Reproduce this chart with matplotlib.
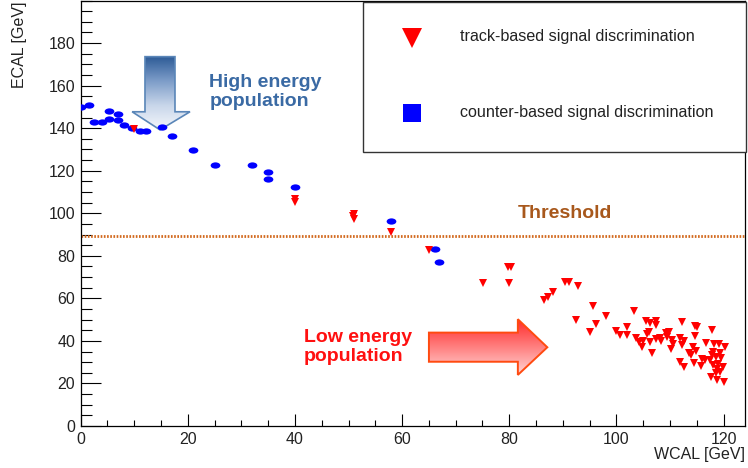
import numpy as np
import matplotlib
matplotlib.use("Agg")
import matplotlib.pyplot as plt
from matplotlib.path import Path
from matplotlib.patches import Polygon, Rectangle
from matplotlib.transforms import Affine2D
from matplotlib.colors import LinearSegmentedColormap
from matplotlib.ticker import MultipleLocator
from matplotlib.lines import Line2D

plt.rcParams['font.family'] = ['Liberation Sans', 'DejaVu Sans']

# ---------------- data ----------------
counter_wcal = [0.0, 1.5, 2.5, 4.0, 5.2, 5.2, 7.0, 7.0, 8.0, 9.5, 11.0, 12.2,
                15.1, 17.0, 21.0, 25.0, 32.0, 35.0, 35.0, 40.0, 58.0, 66.2, 66.8]
counter_ecal = [150.0, 151.0, 143.0, 143.0, 148.0, 144.5, 146.5, 144.0, 141.4, 140.0, 138.5, 138.5,
                140.6, 136.3, 129.6, 122.5, 122.5, 119.4, 116.3, 112.3, 96.3, 83.3, 77.0]

track_wcal = [9.9, 40.0, 40.0, 51.0, 51.0, 50.8, 58.0, 65.0,
              75.1, 79.7, 80.4, 80.0, 86.4, 87.2, 88.2, 90.4, 91.2, 92.8, 92.5, 95.0,
              95.6, 96.1, 98.0, 99.9, 100.7, 102.0, 102.0, 103.2,
              105.6, 106.3, 107.3, 107.4, 105.7, 106.1, 103.6, 104.2, 105.0, 104.8,
              106.3, 106.7, 107.3, 108.1, 108.4, 109.2, 109.9, 109.4, 110.3, 110.5,
              110.1, 112.3, 111.9, 112.7, 112.3, 114.7, 115.0, 114.6, 113.5, 114.0,
              114.9, 114.3, 111.9, 112.7, 114.4, 115.9, 116.5, 115.7, 116.7, 117.9,
              118.3, 119.1, 120.2, 118.1, 119.3, 117.8, 117.5, 118.5, 119.6, 118.0,
              119.0, 119.9, 118.7, 119.4, 118.5, 117.7, 118.7, 120.0]
track_ecal = [139.8, 106.8, 105.5, 99.8, 97.4, 98.5, 91.4, 82.8,
              67.1, 74.6, 74.6, 67.1, 59.2, 60.5, 62.8, 67.5, 67.5, 65.6, 49.8, 44.4,
              56.4, 47.9, 51.6, 44.8, 43.0, 46.5, 43.0, 54.0,
              49.2, 48.2, 49.5, 47.6, 43.2, 44.3, 41.3, 39.3, 40.0, 37.2,
              39.3, 34.1, 40.9, 41.3, 40.0, 43.5, 44.0, 41.6, 40.4, 38.5,
              36.1, 48.7, 41.3, 40.0, 38.2, 47.1, 46.3, 42.4, 34.5, 33.5,
              35.3, 36.9, 30.3, 27.8, 29.8, 31.4, 31.0, 28.3, 38.8, 45.1,
              38.5, 38.5, 37.2, 35.0, 34.5, 33.5, 31.0, 32.5, 31.9, 28.7,
              29.3, 27.5, 26.7, 25.6, 25.1, 23.1, 21.5, 20.7]

threshold_ecal = 89.4
x_ticks = [0, 20, 40, 60, 80, 100, 120]
y_ticks = [0, 20, 40, 60, 80, 100, 120, 140, 160, 180]
legend_labels = ["track-based signal discrimination", "counter-based signal discrimination"]

# ---------------- figure ----------------
W, H = 748, 468
fig = plt.figure(figsize=(W / 100, H / 100), dpi=100)
ax = fig.add_axes([80.7 / W, 42 / H, (745 - 80.7) / W, (426 - 0.5) / H])
ax.set_xlim(0, 124)
ax.set_ylim(0, 200)

for s in ax.spines.values():
    s.set_linewidth(0.9)
    s.set_color('black')

ax.set_xticks(x_ticks)
ax.set_yticks(y_ticks)
ax.xaxis.set_minor_locator(MultipleLocator(5))
ax.yaxis.set_minor_locator(MultipleLocator(5))
ax.tick_params(axis='x', which='major', direction='in', length=8.6, width=0.8,
               labelsize=11.5, pad=4, top=False)
ax.tick_params(axis='x', which='minor', direction='in', length=4.3, width=0.8, top=False)
ax.tick_params(axis='y', which='major', direction='in', length=14.4, width=0.8,
               labelsize=11.5, pad=4, right=False)
ax.tick_params(axis='y', which='minor', direction='in', length=7.9, width=0.8, right=False)
for lab in ax.get_xticklabels() + ax.get_yticklabels():
    lab.set_color('#222222')


def gradient_arrow(verts, colors, edge, lw):
    poly = Polygon(verts, closed=True, facecolor='none', edgecolor=edge, lw=lw, zorder=2.1)
    ax.add_patch(poly)
    xs = [v[0] for v in verts]
    ys = [v[1] for v in verts]
    cmap = LinearSegmentedColormap.from_list('g', colors)
    grad = np.linspace(0, 1, 256).reshape(-1, 1)
    im = ax.imshow(grad, extent=[min(xs), max(xs), min(ys), max(ys)], origin='lower',
                   cmap=cmap, aspect='auto', zorder=2, interpolation='bilinear')
    im.set_clip_path(poly)


# High energy arrow (down)
blue_arrow = [(12.0, 173.6), (17.6, 173.6), (17.6, 147.7), (20.4, 147.7),
              (14.8, 139.2), (9.6, 147.7), (12.0, 147.7)]
gradient_arrow(blue_arrow, ['#f6f8fc', '#c8d6ea', '#7c9cc8', '#2c5a96'], '#5a86b8', 1.2)

# Low energy arrow (right)
red_arrow = [(65.0, 30.2), (65.0, 43.9), (81.6, 43.9), (81.6, 50.2),
             (87.1, 37.0), (81.6, 24.0), (81.6, 30.2)]
gradient_arrow(red_arrow, ['#ffd6d6', '#ff8080', '#ff2a2a'], '#ff4a10', 1.4)
ax.set_xlim(0, 124)
ax.set_ylim(0, 200)

# threshold line
ax.axhline(threshold_ecal, color='#d2691e', lw=2.0, linestyle=(0, (0.6, 0.55)), zorder=2.5)
ax.text(90.4, 99.7, 'Threshold', color='#a8581c', fontsize=14, fontweight='bold',
        ha='center', va='center', zorder=4)

# data markers
pill = Path.unit_circle().transformed(Affine2D().scale(1.55, 1.0))
ax.plot(counter_wcal, counter_ecal, linestyle='none', marker=pill, markersize=7.0,
        color='#0000ff', markeredgewidth=0, zorder=3)
ax.plot(track_wcal, track_ecal, linestyle='none', marker='v', markersize=5.2,
        color='#ff0000', markeredgewidth=0, zorder=3.2)

# annotations
ax.text(24.0, 157.1, 'High energy\npopulation', color='#3a6aa4', fontsize=14,
        fontweight='bold', ha='left', va='center', linespacing=1.15, zorder=4)
ax.text(41.6, 37.3, 'Low energy\npopulation', color='#ff1010', fontsize=14,
        fontweight='bold', ha='left', va='center', linespacing=1.15, zorder=4)

# axis titles
fig.text(745 / W, 1 - 454 / H, 'WCAL [GeV]', ha='right', va='center', fontsize=11.5,
         color='#222222')
fig.text(20 / W, 1 - 1 / H, 'ECAL [GeV]', ha='center', va='top', rotation=90,
         fontsize=11.5, color='#222222')

# legend box (manual)
def fx(px):
    return px / W


def fy(py):
    return 1 - py / H


leg = Rectangle((fx(363.3), fy(152)), fx(745.5) - fx(363.3), fy(1.5) - fy(152),
                transform=fig.transFigure, facecolor='white', edgecolor='#333333',
                lw=1.0, zorder=5)
fig.patches.append(leg)
fig.add_artist(Line2D([fx(412)], [fy(38)], transform=fig.transFigure, marker='v',
                      markersize=14, color='#ff0000', markeredgewidth=0, linestyle='none',
                      zorder=6))
fig.add_artist(Line2D([fx(412)], [fy(113)], transform=fig.transFigure, marker='s',
                      markersize=13.5, color='#0000ff', markeredgewidth=0, linestyle='none',
                      zorder=6))
fig.text(fx(460), fy(37), legend_labels[0], ha='left', va='center', fontsize=11.6,
         color='#222222', zorder=6)
fig.text(fx(460), fy(112), legend_labels[1], ha='left', va='center', fontsize=11.6,
         color='#222222', zorder=6)

fig.savefig('out.png', dpi=100)
